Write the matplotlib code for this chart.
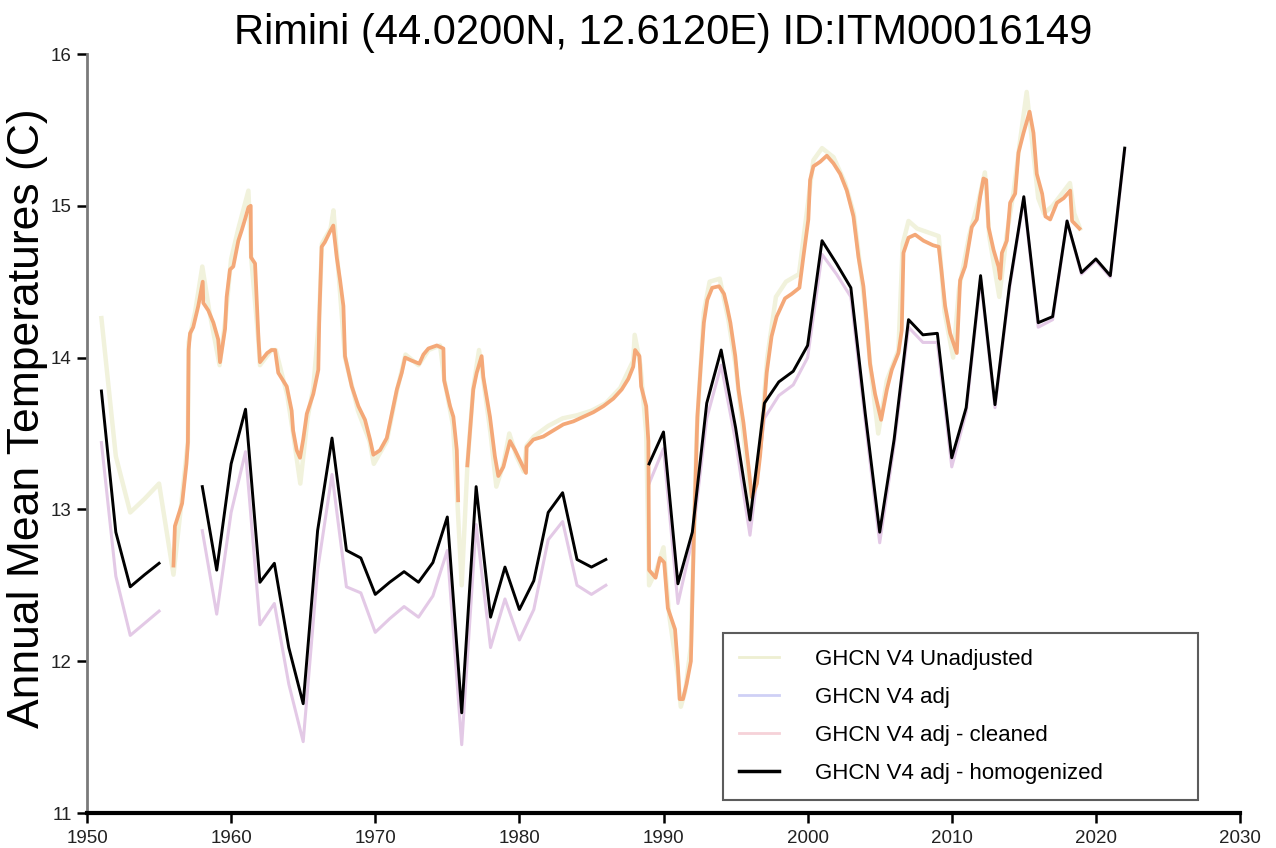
import numpy as np
import matplotlib
matplotlib.use("Agg")
import matplotlib.pyplot as plt
from matplotlib.lines import Line2D

plt.rcParams['font.family'] = ['Liberation Sans', 'DejaVu Sans']

nan = np.nan

# ---- annual series: GHCN V4 adj - homogenized (black) ----
years = list(range(1951, 2023))
homog = [13.78, 12.85, 12.49, 12.57, 12.645, nan, nan, 13.15, 12.60, 13.30,
         13.66, 12.52, 12.645, 12.09, 11.72, 12.86, 13.47, 12.73, 12.68, 12.44,
         12.52, 12.59, 12.52, 12.65, 12.95, 11.66, 13.15, 12.29, 12.62, 12.34,
         12.53, 12.98, 13.11, 12.67, 12.62, 12.67, nan, nan, 13.30, 13.51,
         12.51, 12.85, 13.70, 14.05, 13.54, 12.93, 13.70, 13.84, 13.91, 14.08,
         14.77, 14.62, 14.46, 13.63, 12.85, 13.46, 14.25, 14.15, 14.16, 13.34,
         13.67, 14.54, 13.69, 14.47, 15.06, 14.23, 14.27, 14.90, 14.56, 14.65,
         14.54, 15.38]

# ---- annual series: GHCN V4 adj (pale purple) ----
adj = [13.44, 12.56, 12.17, 12.25, 12.33, nan, nan, 12.86, 12.31, 12.98,
       13.38, 12.24, 12.38, 11.85, 11.47, 12.60, 13.23, 12.49, 12.45, 12.19,
       12.28, 12.36, 12.29, 12.43, 12.73, 11.45, 12.90, 12.09, 12.41, 12.14,
       12.34, 12.80, 12.92, 12.50, 12.44, 12.50, nan, nan, 13.17, 13.40,
       12.38, 12.80, 13.60, 13.95, 13.45, 12.83, 13.60, 13.75, 13.82, 14.00,
       14.68, 14.55, 14.40, 13.58, 12.78, 13.42, 14.20, 14.10, 14.10, 13.28,
       13.64, 14.52, 13.67, 14.45, 15.05, 14.20, 14.25, 14.90, 14.55, 14.64,
       14.53, 15.37]

# ---- fine-resolution series: GHCN V4 adj - cleaned (orange) ----
clean_x = [1956.0, 1956.1, 1956.6, 1956.9, 1957.0, 1957.05, 1957.15, 1957.37, 1957.72, 1958.03,
           1958.07, 1958.42, 1958.77, 1959.1, 1959.23, 1959.58, 1959.69, 1959.92, 1960.15, 1960.5,
           1960.74, 1960.96, 1961.2, 1961.36, 1961.38, 1961.66, 1961.9, 1962.0, 1962.5, 1962.8,
           1963.05, 1963.27, 1963.86, 1964.2, 1964.3, 1964.55, 1964.78, 1965.0, 1965.25, 1965.7,
           1966.05, 1966.12, 1966.28, 1966.5, 1966.86, 1967.09, 1967.14, 1967.33, 1967.56, 1967.79,
           1967.9, 1968.37, 1968.83, 1969.29, 1969.64, 1969.87, 1970.33, 1970.8, 1971.26, 1971.5,
           1971.84, 1972.07, 1972.53, 1973.06, 1973.34, 1973.69, 1974.27, 1974.73, 1974.78, 1975.19,
           1975.42, 1975.66, 1975.75, 1976.0, 1976.39, 1976.8, 1977.04, 1977.38, 1977.5, 1977.96,
           1978.3, 1978.54, 1978.89, 1979.35, 1979.7, 1980.16, 1980.46, 1980.5, 1980.97, 1981.66,
           1982.36, 1983.05, 1983.75, 1984.44, 1985.13, 1985.83, 1986.52, 1987.1, 1987.56, 1987.9,
           1988.03, 1988.33, 1988.45, 1988.8, 1988.95, 1989.0, 1989.45, 1989.75, 1990.05, 1990.3,
           1990.8, 1991.0, 1991.12, 1991.35, 1991.6, 1991.9, 1992.1, 1992.35, 1992.58, 1992.8,
           1993.04, 1993.38, 1993.85, 1994.2, 1994.4, 1994.64, 1994.98, 1995.2, 1995.55, 1995.9,
           1996.13, 1996.48, 1996.7, 1996.93, 1997.16, 1997.5, 1997.85, 1998.43, 1998.9, 1999.43,
           1999.7, 2000.05, 2000.17, 2000.4, 2000.87, 2001.33, 2001.79, 2002.26, 2002.72, 2003.18,
           2003.53, 2003.87, 2004.1, 2004.33, 2004.68, 2005.1, 2005.5, 2005.84, 2006.3, 2006.53,
           2006.65, 2007.0, 2007.46, 2008.04, 2008.7, 2009.1, 2009.3, 2009.54, 2009.89, 2010.35,
           2010.58, 2010.93, 2011.16, 2011.39, 2011.74, 2011.97, 2012.2, 2012.39, 2012.55, 2012.9,
           2013.24, 2013.36, 2013.48, 2013.82, 2014.05, 2014.4, 2014.63, 2014.98, 2015.4, 2015.67,
           2015.9, 2016.27, 2016.5, 2016.83, 2017.3, 2017.76, 2018.22, 2018.35, 2018.86]
clean_t = [12.63, 12.89, 13.04, 13.30, 13.44, 14.05, 14.16, 14.20, 14.34, 14.50,
           14.36, 14.31, 14.23, 14.12, 13.97, 14.19, 14.40, 14.58, 14.60, 14.77,
           14.84, 14.91, 14.99, 15.00, 14.66, 14.62, 14.12, 13.97, 14.03, 14.05,
           14.05, 13.90, 13.81, 13.65, 13.52, 13.39, 13.34, 13.46, 13.63, 13.76,
           13.92, 14.27, 14.73, 14.76, 14.83, 14.87, 14.82, 14.66, 14.51, 14.34,
           14.01, 13.81, 13.68, 13.59, 13.46, 13.36, 13.39, 13.47, 13.68, 13.79,
           13.90, 14.00, 13.98, 13.96, 14.02, 14.06, 14.08, 14.06, 13.85, 13.68,
           13.61, 13.39, 13.06, nan, 13.29, 13.79, 13.90, 14.01, 13.87, 13.61,
           13.35, 13.22, 13.28, 13.45, 13.39, 13.30, 13.24, 13.41, 13.46, 13.48,
           13.52, 13.56, 13.58, 13.61, 13.64, 13.68, 13.73, 13.79, 13.86, 13.94,
           14.05, 14.01, 13.81, 13.68, 13.45, 12.60, 12.55, 12.68, 12.65, 12.35,
           12.21, 11.96, 11.75, 11.75, 11.85, 12.00, 12.80, 13.61, 13.94, 14.23,
           14.38, 14.46, 14.47, 14.42, 14.34, 14.23, 14.01, 13.79, 13.57, 13.28,
           13.08, 13.17, 13.35, 13.61, 13.90, 14.14, 14.27, 14.39, 14.42, 14.46,
           14.66, 14.91, 15.17, 15.26, 15.29, 15.33, 15.28, 15.21, 15.10, 14.93,
           14.66, 14.47, 14.23, 13.96, 13.76, 13.59, 13.79, 13.92, 14.03, 14.18,
           14.69, 14.79, 14.81, 14.77, 14.74, 14.73, 14.56, 14.34, 14.16, 14.03,
           14.51, 14.60, 14.73, 14.86, 14.91, 15.06, 15.18, 15.17, 14.86, 14.71,
           14.60, 14.52, 14.69, 14.77, 15.02, 15.08, 15.35, 15.48, 15.62, 15.48,
           15.21, 15.08, 14.93, 14.91, 15.02, 15.05, 15.10, 14.90, 14.85]

# ---- fine-resolution series: GHCN V4 Unadjusted (pale yellow) ----
unadj_x = [1951.0, 1952.0, 1953.0, 1954.0, 1955.0, 1956.0, 1956.5, 1957.0, 1957.05, 1957.5,
           1958.0, 1958.5, 1959.2, 1959.6, 1960.0, 1960.5, 1961.2, 1961.4, 1961.9, 1962.0,
           1962.8, 1963.1, 1963.9, 1964.3, 1964.8, 1965.3, 1965.7, 1966.1, 1966.3, 1966.9,
           1967.1, 1967.5, 1967.9, 1968.8, 1969.6, 1969.9, 1970.8, 1971.5, 1972.1, 1973.0,
           1973.7, 1974.5, 1974.8, 1975.4, 1975.7, 1976.0, 1976.4, 1976.8, 1977.2, 1977.5,
           1978.0, 1978.4, 1978.9, 1979.3, 1979.8, 1980.3, 1980.5, 1981.0, 1982.0, 1983.0,
           1984.0, 1985.0, 1986.0, 1987.0, 1987.9, 1988.0, 1988.4, 1988.8, 1989.0, 1989.5,
           1990.0, 1990.4, 1991.0, 1991.2, 1991.5, 1991.9, 1992.3, 1992.8, 1993.2, 1993.9,
           1994.5, 1995.0, 1995.6, 1996.1, 1996.7, 1997.2, 1997.8, 1998.5, 1999.4, 2000.0,
           2000.4, 2001.0, 2001.8, 2002.6, 2003.2, 2003.9, 2004.4, 2004.9, 2005.5, 2006.3,
           2006.6, 2007.0, 2007.6, 2008.5, 2009.1, 2009.5, 2010.1, 2010.5, 2011.2, 2011.9,
           2012.3, 2012.6, 2013.3, 2013.8, 2014.3, 2014.7, 2015.2, 2015.6, 2016.0, 2016.4,
           2017.0, 2017.8, 2018.2, 2018.5, 2018.9]
unadj_t = [14.26, 13.35, 12.98, 13.07, 13.17, 12.57, 13.00, 13.45, 14.10, 14.30,
           14.60, 14.30, 13.95, 14.25, 14.65, 14.85, 15.10, 14.65, 14.10, 13.95,
           14.05, 14.05, 13.75, 13.50, 13.17, 13.60, 13.80, 14.25, 14.75, 14.85,
           14.97, 14.50, 14.00, 13.65, 13.45, 13.30, 13.45, 13.78, 14.02, 13.95,
           14.05, 14.08, 13.85, 13.55, 13.05, 12.50, 13.30, 13.80, 14.05, 13.85,
           13.50, 13.15, 13.30, 13.50, 13.35, 13.25, 13.42, 13.48, 13.55, 13.60,
           13.62, 13.65, 13.70, 13.80, 13.98, 14.15, 13.95, 13.50, 12.50, 12.60,
           12.75, 12.30, 11.90, 11.70, 11.80, 12.10, 13.50, 14.30, 14.50, 14.52,
           14.25, 13.95, 13.45, 13.00, 13.40, 14.00, 14.40, 14.50, 14.55, 15.00,
           15.30, 15.38, 15.32, 15.15, 14.95, 14.40, 13.90, 13.50, 13.85, 14.05,
           14.75, 14.90, 14.85, 14.82, 14.80, 14.30, 14.00, 14.45, 14.80, 15.05,
           15.22, 14.80, 14.40, 14.80, 15.10, 15.40, 15.75, 15.40, 15.05, 14.95,
           15.00, 15.10, 15.15, 14.95, 14.85]

legend_labels = ["GHCN V4 Unadjusted", "GHCN V4 adj", "GHCN V4 adj - cleaned",
                 "GHCN V4 adj - homogenized"]
legend_colors = ["#eeefd2", "#cfd0f6", "#f6d2d8", "#000000"]

title = "Rimini (44.0200N, 12.6120E) ID:ITM00016149"
ylabel = "Annual Mean Temperatures (C)"
xticks = list(range(1950, 2031, 10))
yticks = [11, 12, 13, 14, 15, 16]

fig = plt.figure(figsize=(12.76, 8.48), dpi=100)
ax = fig.add_axes([87 / 1276, 1 - 813 / 848, (1240 - 87) / 1276, (813 - 54) / 848])

ax.plot(unadj_x, unadj_t, color="#f1f2dc", lw=3.2, zorder=1, solid_joinstyle='round')
ax.plot(years, adj, color="#e3c9e6", lw=2.2, zorder=2)
ax.plot(clean_x, clean_t, color="#f4a878", lw=2.7, zorder=3, solid_joinstyle='round')
ax.plot(years, homog, color="black", lw=2.1, zorder=4)

ax.set_xlim(1950, 2030)
ax.set_ylim(11, 16)
ax.set_xticks(xticks)
ax.set_yticks(yticks)

for s in ("top", "right"):
    ax.spines[s].set_visible(False)
ax.spines["left"].set_color("#7a7a7a")
ax.spines["left"].set_linewidth(2.0)
ax.spines["bottom"].set_color("black")
ax.spines["bottom"].set_linewidth(3.0)

ax.tick_params(axis="both", direction="out", length=7, width=1.8, color="black",
               labelsize=13.5, labelcolor="#222222")
ax.tick_params(axis="x", pad=5)
ax.tick_params(axis="y", pad=4)

ax.set_title(title, fontsize=30, pad=7)
ax.set_ylabel(ylabel, fontsize=32)
ax.yaxis.set_label_coords(-0.034, 0.52)

handles = [Line2D([], [], color=c, lw=2.5 if c == "#000000" else 2.0) for c in legend_colors]
leg = ax.legend(handles, legend_labels, loc="lower left",
                bbox_to_anchor=(0.5516, 0.0171, 0.412, 0.2214), mode="expand",
                borderaxespad=0, fontsize=16, frameon=True, fancybox=False,
                handlelength=1.8, handletextpad=1.6, labelspacing=0.77, borderpad=0.72)
leg.get_frame().set_edgecolor("#333333")
leg.get_frame().set_linewidth(1.5)

fig.savefig("out.png", dpi=100)
